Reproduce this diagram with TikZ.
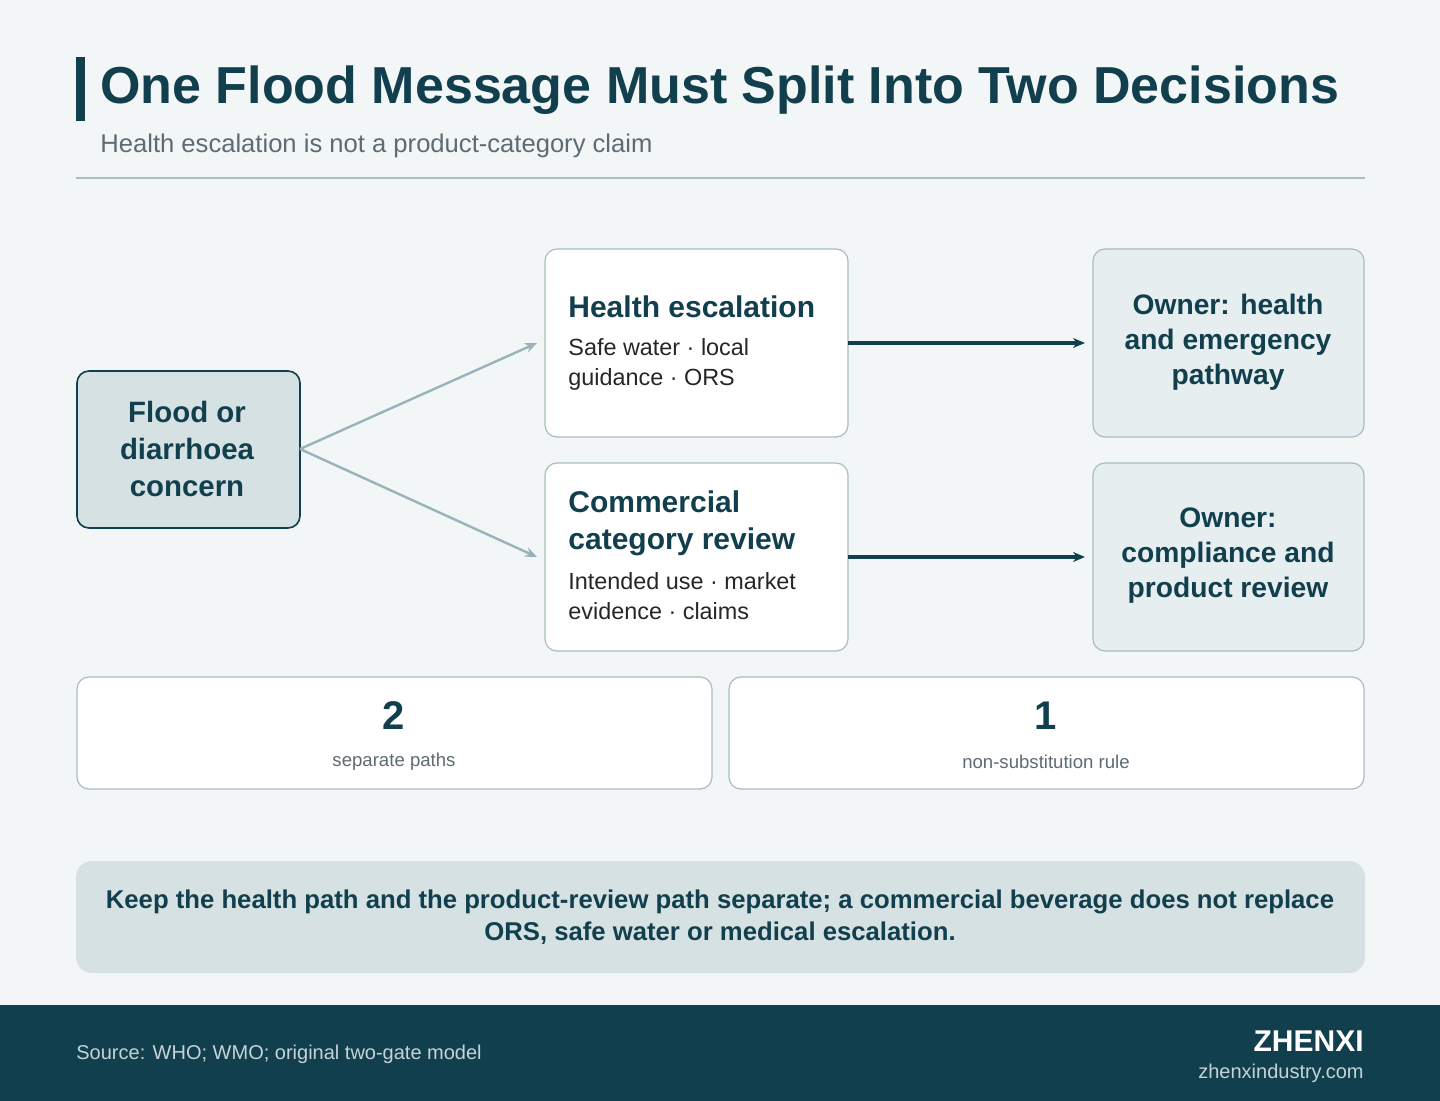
\documentclass[tikz,border=0pt]{standalone}
\usepackage{fontspec}
\setmainfont{Liberation Sans}
\usetikzlibrary{arrows.meta}
\definecolor{bg}{HTML}{F3F6F7}
\definecolor{dark}{HTML}{123F4D}
\definecolor{gray1}{HTML}{5F6B72}
\definecolor{rule}{HTML}{A9BCC2}
\definecolor{pale}{HTML}{D5E1E3}
\definecolor{owner}{HTML}{E6EEF0}
\definecolor{arr}{HTML}{9AB3BA}
\definecolor{foot}{HTML}{C5D3D8}
\begin{document}
\begin{tikzpicture}[x=0.5pt,y=-0.5pt,
  box/.style={draw=rule,line width=0.6pt,rounded corners=6pt,fill=white},
  ownerbox/.style={draw=rule,line width=0.6pt,rounded corners=6pt,fill=owner},
  ot/.style={font=\bfseries\fontsize{14.1}{17.5}\selectfont,text=dark,align=center},
  ga/.style={draw=arr,line width=1.2pt,-{Stealth[length=6pt,width=5pt]}},
  da/.style={draw=dark,line width=1.6pt,-{Stealth[length=6pt,width=5pt]}}]
\fill[bg] (0,0) rectangle (1440,1101);
\useasboundingbox (0,0) rectangle (1440,1101);
\fill[dark] (76,57) rectangle (85,121);
\node[anchor=base west,inner sep=0,text=dark,font=\bfseries\fontsize{26}{30}\selectfont] (title) at (100,104) {One Flood Message Must Split Into Two Decisions};
\node[anchor=base west,inner sep=0,text=gray1,font=\fontsize{12.8}{15}\selectfont] (sub) at (100,153) {Health escalation is not a product-category claim};
\draw[rule,line width=0.8pt] (76,178) -- (1365,178);
% flood
\draw[draw=dark,line width=0.8pt,rounded corners=6pt,fill=pale] (77,371) rectangle (300,528);
\node[ot,font=\bfseries\fontsize{14.7}{18.5}\selectfont] (flood) at (187,449) {Flood or\\diarrhoea\\concern};
\coordinate (fr) at (300,449);
% health
\draw[box] (545,249) rectangle (848,437);
\node[anchor=base west,inner sep=0,text=dark,font=\bfseries\fontsize{15}{18}\selectfont] (ht) at (568,318) {Health escalation};
\node[anchor=north west,inner sep=0,align=left,text=black!85,font=\fontsize{11.7}{15}\selectfont] (hb) at (568,338) {Safe water · local\\guidance · ORS};
\coordinate (hl) at (537,343); \coordinate (hr) at (848,343);
% commercial
\draw[box] (545,463) rectangle (848,651);
\node[anchor=north west,inner sep=0,align=left,text=dark,font=\bfseries\fontsize{15}{18.5}\selectfont] (ct) at (568,490) {Commercial\\category review};
\node[anchor=north west,inner sep=0,align=left,text=black!85,font=\fontsize{11.7}{15}\selectfont] (cb) at (568,572) {Intended use · market\\evidence · claims};
\coordinate (cl) at (537,557); \coordinate (cr) at (848,557);
% owners
\draw[ownerbox] (1093,249) rectangle (1364,437);
\node[ot] (o1) at (1228,342) {Owner: health\\and emergency\\pathway};
\draw[ownerbox] (1093,463) rectangle (1364,651);
\node[ot] (o2) at (1228,556) {Owner:\\compliance and\\product review};
\coordinate (o1l) at (1085,343); \coordinate (o2l) at (1085,557);
\draw[ga] (fr) -- (hl);
\draw[ga] (fr) -- (cl);
\draw[da] (hr) -- (o1l);
\draw[da] (cr) -- (o2l);
% stats
\draw[box] (77,677) rectangle (712,789);
\node[text=dark,font=\bfseries\fontsize{20}{24}\selectfont] (n1) at (394,716) {2};
\node[text=gray1,font=\fontsize{9.3}{11}\selectfont] (l1) at (394,762) {separate paths};
\draw[box] (729,677) rectangle (1364,789);
\node[text=dark,font=\bfseries\fontsize{20}{24}\selectfont] (n2) at (1046,716) {1};
\node[text=gray1,font=\fontsize{9.3}{11}\selectfont] (l2) at (1046,762) {non-substitution rule};
% callout
\fill[pale,rounded corners=8pt] (76,861) rectangle (1365,973);
\node[text=dark,align=center,font=\bfseries\fontsize{12.85}{16}\selectfont] (call) at (720,917) {Keep the health path and the product-review path separate; a commercial beverage does not replace\\ORS, safe water or medical escalation.};
% footer
\fill[dark] (0,1005) rectangle (1440,1101);
\node[anchor=base west,inner sep=0,text=foot,font=\fontsize{10}{12}\selectfont] (src) at (76,1059) {Source: WHO; WMO; original two-gate model};
\node[anchor=base east,inner sep=0,text=white,font=\bfseries\fontsize{15}{18}\selectfont] (brand) at (1364,1051) {ZHENXI};
\node[anchor=base east,inner sep=0,text=foot,font=\fontsize{10}{12}\selectfont] (url) at (1364,1078) {zhenxindustry.com};
\end{tikzpicture}
\end{document}
